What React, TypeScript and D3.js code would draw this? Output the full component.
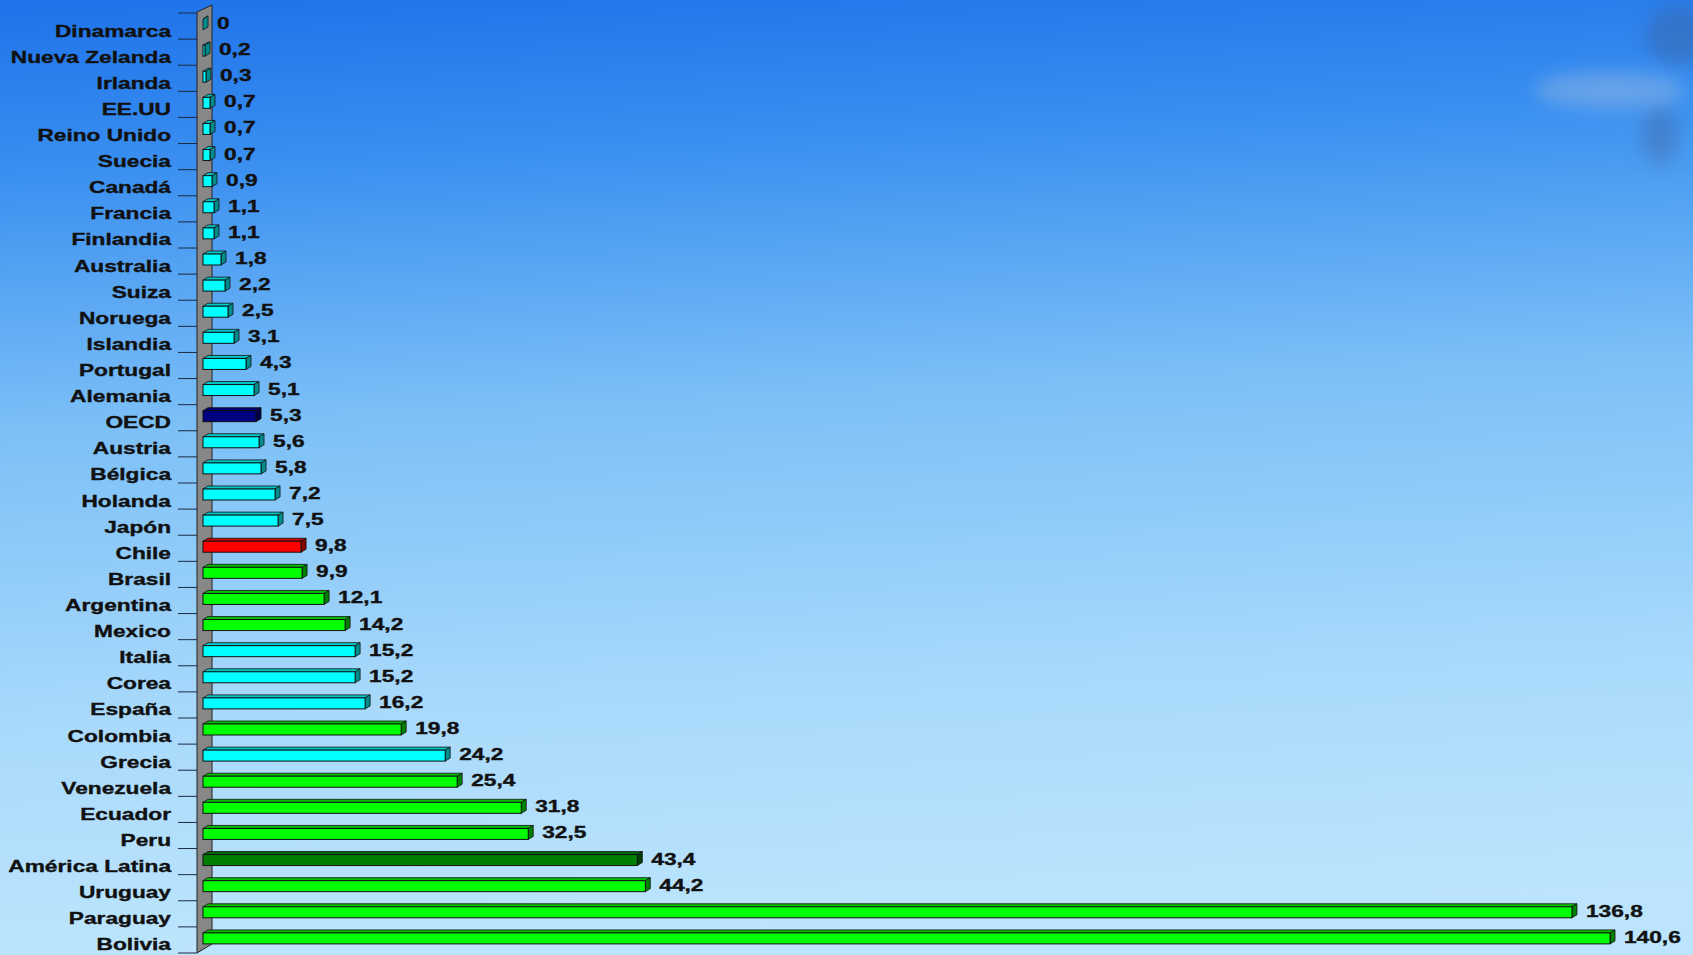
import React from "react";
import * as d3 from "d3";

const categories = [
  "Dinamarca", "Nueva Zelanda", "Irlanda", "EE.UU", "Reino Unido", "Suecia",
  "Canadá", "Francia", "Finlandia", "Australia", "Suiza", "Noruega", "Islandia",
  "Portugal", "Alemania", "OECD", "Austria", "Bélgica", "Holanda", "Japón",
  "Chile", "Brasil", "Argentina", "Mexico", "Italia", "Corea", "España",
  "Colombia", "Grecia", "Venezuela", "Ecuador", "Peru", "América Latina",
  "Uruguay", "Paraguay", "Bolivia",
];

const values = [
  0, 0.2, 0.3, 0.7, 0.7, 0.7, 0.9, 1.1, 1.1, 1.8, 2.2, 2.5, 3.1, 4.3, 5.1,
  5.3, 5.6, 5.8, 7.2, 7.5, 9.8, 9.9, 12.1, 14.2, 15.2, 15.2, 16.2, 19.8,
  24.2, 25.4, 31.8, 32.5, 43.4, 44.2, 136.8, 140.6,
];

// group of each category: o = OECD country, a = OECD average, c = Chile,
// l = Latin American country, m = Latin American average
const groups = [
  "o", "o", "o", "o", "o", "o", "o", "o", "o", "o", "o", "o", "o", "o", "o",
  "a", "o", "o", "o", "o", "c", "l", "l", "l", "o", "o", "o", "l", "o", "l",
  "l", "l", "m", "l", "l", "l",
];

const palette: Record<string, { front: string; top: string; side: string }> = {
  o: { front: "#00ffff", top: "#00c8c8", side: "#008c8c" },
  a: { front: "#000080", top: "#000070", side: "#000048" },
  c: { front: "#ff0000", top: "#d00000", side: "#880000" },
  l: { front: "#00ff00", top: "#00c000", side: "#008000" },
  m: { front: "#008000", top: "#006800", side: "#004000" },
};

const W = 1693;
const H = 955;
const FONT = "'Liberation Sans', Arial, sans-serif";
const SX = 1.42;

export default function App() {
  const y = d3.scaleBand<string>().domain(categories).range([13, 953]).padding(0);
  const x = d3.scaleLinear().domain([0, 140.6]).range([203, 1610]);
  const bw = y.bandwidth();
  const dx = 5;
  const dy = -3;
  const barH = 11;
  const x0 = x(0);

  const tickYs = d3.range(categories.length + 1).map((i) => 13 + i * bw);

  const fmt = (v: number) => String(v).replace(".", ",");

  return (
    <svg
      width={W}
      height={H}
      style={{ position: "fixed", left: 0, top: 0, display: "block" }}
    >
      <defs>
        <linearGradient id="sky" x1="0" y1="0" x2="0.08" y2="1">
          <stop offset="0" stopColor="#1e72ea" />
          <stop offset="0.18" stopColor="#3a8ff0" />
          <stop offset="0.45" stopColor="#7cc0f7" />
          <stop offset="0.75" stopColor="#a8d9fb" />
          <stop offset="1" stopColor="#bce5fd" />
        </linearGradient>
        <filter id="blur" x="-50%" y="-50%" width="200%" height="200%">
          <feGaussianBlur stdDeviation="9" />
        </filter>
      </defs>
      <rect x={0} y={0} width={W} height={H} fill="url(#sky)" />
      <g filter="url(#blur)" opacity={0.4}>
        <ellipse cx={1680} cy={35} rx={35} ry={30} fill="#3a5f9a" />
        <ellipse cx={1610} cy={90} rx={75} ry={18} fill="#a9c2e0" />
        <ellipse cx={1660} cy={135} rx={18} ry={30} fill="#42659e" />
      </g>

      {/* tick marks */}
      {tickYs.map((ty, i) => (
        <line
          key={"t" + i}
          x1={178}
          x2={197}
          y1={ty}
          y2={ty}
          stroke="#1b2a40"
          strokeWidth={1}
        />
      ))}

      {/* wall */}
      <polygon
        points={`197,12 212,5 212,944 197,953`}
        fill="#878787"
        stroke="#222"
        strokeWidth={1}
      />

      {/* bars */}
      {categories.map((c, i) => {
        const v = values[i];
        const col = palette[groups[i]];
        const by = (y(c) as number) + 6;
        const x1 = x(v);
        const topPts = `${x0},${by} ${x0 + dx},${by + dy} ${x1 + dx},${by + dy} ${x1},${by}`;
        const sidePts = `${x1},${by} ${x1 + dx},${by + dy} ${x1 + dx},${by + barH + dy} ${x1},${by + barH}`;
        return (
          <g key={"b" + i}>
            <polygon points={topPts} fill={col.top} stroke="#111" strokeWidth={0.8} />
            <polygon points={sidePts} fill={col.side} stroke="#111" strokeWidth={0.8} />
            <rect
              x={x0}
              y={by}
              width={Math.max(0, x1 - x0)}
              height={barH}
              fill={col.front}
              stroke="#111"
              strokeWidth={1}
            />
          </g>
        );
      })}

      {/* category labels */}
      {categories.map((c, i) => (
        <text
          key={"l" + i}
          transform={`translate(171,${(y(c) as number) + 23.5}) scale(${SX},1)`}
          textAnchor="end"
          fontFamily={FONT}
          fontWeight="bold"
          fontSize={16}
          fill="#111"
          stroke="#111"
          strokeWidth={0.35}
        >
          {c}
        </text>
      ))}

      {/* value labels */}
      {categories.map((c, i) => (
        <text
          key={"v" + i}
          transform={`translate(${x(values[i]) + dx + 9},${(y(c) as number) + 16}) scale(${SX},1)`}
          fontFamily={FONT}
          fontWeight="bold"
          fontSize={16}
          fill="#111"
          stroke="#111"
          strokeWidth={0.35}
        >
          {fmt(values[i])}
        </text>
      ))}
    </svg>
  );
}
